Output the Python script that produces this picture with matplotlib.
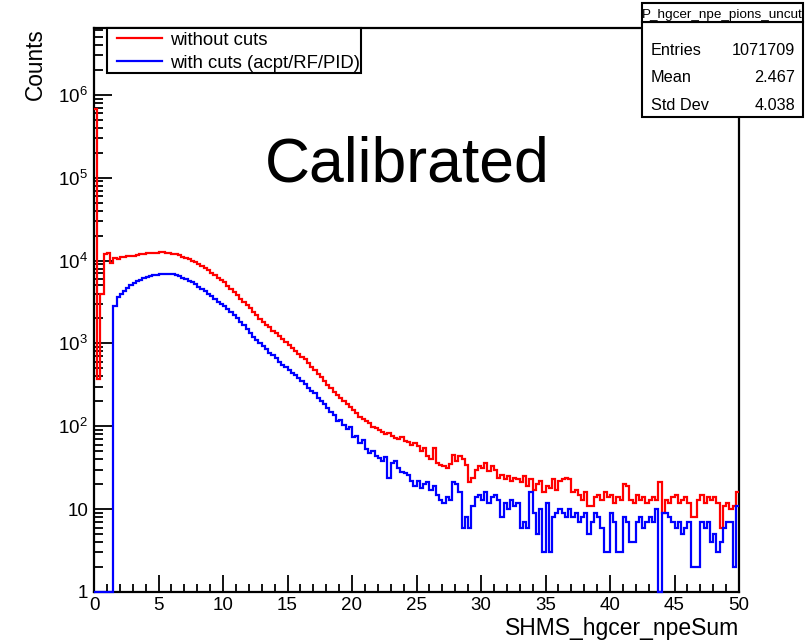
import numpy as np
import matplotlib
matplotlib.use("Agg")
import matplotlib.pyplot as plt
from matplotlib.lines import Line2D
from matplotlib.patches import Rectangle
from matplotlib.ticker import (FixedLocator, FixedFormatter, LogLocator,
                               MultipleLocator, NullFormatter)

plt.rcParams['font.family'] = ['Liberation Sans', 'DejaVu Sans']
plt.rcParams['mathtext.fontset'] = 'custom'
plt.rcParams['mathtext.rm'] = 'Liberation Sans'
plt.rcParams['mathtext.it'] = 'Liberation Sans:italic'

# histogram binning: 200 bins, 0 .. 50
nbins = 200
xlo, xhi = 0, 50

# counts per bin, without cuts (red)
without_cuts = [
    680000, 370, 4000, 12000, 12300, 9300, 10600, 10500, 10900, 11000, 11200, 11300, 11500, 11700, 11900, 12000, 12200, 12300, 12400, 12500,
    12600, 12600, 12500, 12400, 12100, 11900, 11600, 11000, 10700, 10400, 10000, 9600, 9100, 8600, 8100, 7600, 7150, 6700, 6200, 5800,
    5450, 4950, 4550, 4150, 3800, 3480, 3180, 2900, 2640, 2400, 2180, 1980, 1820, 1690, 1560, 1420, 1320, 1230, 1120, 1040,
    950, 880, 820, 750, 690, 640, 580, 520, 480, 430, 390, 350, 318, 290, 262, 238, 220, 200, 185, 170,
    158, 146, 131, 124, 115, 108, 99, 96, 91, 86, 80, 83, 76, 72, 70, 74, 66, 64, 60, 63,
    58, 50, 55, 44, 40, 54, 36, 34, 33, 31, 35, 45, 38, 44, 40, 34, 21, 24, 30, 33,
    31, 36, 29, 33, 30, 24, 26, 23, 25, 22, 24, 23, 21, 25, 19, 23, 17, 20, 22, 16,
    19, 18, 23, 17, 22, 23, 24, 23, 16, 17, 15, 13, 16, 11, 11, 14, 15, 13, 16, 14,
    15, 12, 14, 13, 20, 19, 13, 12, 15, 13, 14, 12, 13, 14, 13, 21, 9, 13, 12, 14,
    15, 12, 13, 14, 12, 8, 8, 13, 15, 12, 14, 13, 14, 12, 6, 11, 12, 10, 11, 16,
]

# counts per bin, with cuts acpt/RF/PID (blue)
with_cuts = [
    0, 0, 0, 0, 0, 0, 2800, 3600, 4000, 4300, 4600, 5000, 5300, 5600, 5900, 6100, 6300, 6500, 6650, 6750,
    6850, 6900, 6950, 6900, 6800, 6650, 6450, 6200, 5950, 5700, 5450, 5150, 4850, 4550, 4250, 3950, 3700, 3450, 3200, 3000,
    2800, 2580, 2380, 2180, 2000, 1820, 1650, 1480, 1320, 1210, 1100, 1010, 930, 850, 770, 720, 660, 600, 550, 520,
    480, 440, 410, 380, 355, 320, 290, 265, 250, 220, 200, 185, 166, 150, 137, 115, 118, 103, 92, 98,
    74, 76, 62, 68, 53, 47, 50, 44, 41, 38, 42, 24, 36, 38, 31, 28, 27, 26, 22, 19,
    22, 18, 20, 21, 17, 19, 15, 13, 12, 14, 13, 21, 20, 16, 6, 8, 6, 11, 14, 15,
    13, 16, 12, 14, 15, 13, 8, 12, 10, 13, 11, 12, 6, 7, 6, 16, 9, 5, 10, 3,
    12, 3, 8, 9, 10, 9, 8, 10, 8, 9, 7, 8, 9, 5, 7, 9, 8, 6, 3, 3,
    9, 7, 3, 3, 8, 7, 4, 4, 7, 8, 6, 7, 8, 7, 10, 0, 9, 9, 8, 7,
    6, 7, 5, 6, 7, 2, 2, 2, 7, 6, 7, 4, 5, 3, 4, 6, 7, 7, 2, 11,
]

labels = ["without cuts", "with cuts (acpt/RF/PID)"]
colors = ["red", "blue"]

hist_name = "P_hgcer_npe_pions_uncut"
stat_names = ["Entries", "Mean", "Std Dev"]
stat_values = ["1071709", "2.467", "4.038"]

ytick_vals = [1, 10, 1e2, 1e3, 1e4, 1e5, 1e6]
ytick_labels = ["1", "10", "$10^{2}$", "$10^{3}$", "$10^{4}$", "$10^{5}$", "$10^{6}$"]

W, H = 806, 640


def fx(px):
    return px / W


def fy(py):
    return 1 - py / H


fig = plt.figure(figsize=(W / 100, H / 100), dpi=100)
ax = fig.add_axes([fx(94), fy(592), fx(739) - fx(94), fy(28) - fy(592)])

edges = np.linspace(xlo, xhi, nbins + 1)
for vals, c in zip([without_cuts, with_cuts], colors):
    # empty bins drawn at the axis floor like ROOT does
    ax.stairs(np.clip(np.array(vals, float), 1, None), edges, color=c, lw=1.6,
              baseline=None, zorder=3, clip_on=False)

ax.set_yscale("log")
ax.set_xlim(xlo, xhi)
ax.set_ylim(1, 6.4e6)

ax.yaxis.set_major_locator(FixedLocator(ytick_vals))
ax.yaxis.set_major_formatter(FixedFormatter(ytick_labels))
ax.yaxis.set_minor_locator(LogLocator(base=10, subs=np.arange(2, 10), numticks=30))
ax.yaxis.set_minor_formatter(NullFormatter())
ax.xaxis.set_major_locator(MultipleLocator(5))
ax.xaxis.set_minor_locator(MultipleLocator(1))

ax.tick_params(which="both", direction="in", top=False, right=False,
               width=1.3, labelsize=13.5)
ax.tick_params(axis="y", which="major", length=13, pad=4.3)
ax.tick_params(axis="y", which="minor", length=6.5)
ax.tick_params(axis="x", which="major", length=12.5, pad=3.3)
ax.tick_params(axis="x", which="minor", length=6)
for s in ax.spines.values():
    s.set_linewidth(1.6)

# axis titles, ROOT style
fig.text(fx(739), fy(635), "SHMS_hgcer_npeSum", ha="right", va="baseline", fontsize=16.5)
fig.text(fx(35), fy(28), "Counts", rotation=90, ha="center", va="top", fontsize=16.3)

fig.text(fx(265), fy(182), "Calibrated", ha="left", va="baseline", fontsize=45)

# legend box
fig.add_artist(Rectangle((fx(107), fy(73)), fx(361) - fx(107), fy(28) - fy(73),
                         transform=fig.transFigure, fc="white", ec="black", lw=1.5, zorder=5))
for i, (lab, c) in enumerate(zip(labels, colors)):
    yc = 38 + 23 * i
    fig.add_artist(Line2D([fx(117), fx(162)], [fy(yc), fy(yc)], transform=fig.transFigure,
                          color=c, lw=1.6, zorder=6))
    fig.text(fx(170), fy(yc + 7), lab, ha="left", va="baseline", fontsize=13.3, zorder=6)

# stats box
fig.add_artist(Rectangle((fx(642), fy(117)), fx(803) - fx(642), fy(22) - fy(117),
                         transform=fig.transFigure, fc="white", ec="black", lw=1.5, zorder=5))
fig.add_artist(Rectangle((fx(642), fy(22)), fx(803) - fx(642), fy(3) - fy(22),
                         transform=fig.transFigure, fc="white", ec="black", lw=1.5, zorder=5))
fig.text(fx(722), fy(18), hist_name, ha="center", va="baseline", fontsize=9.7, zorder=6)
for i, (n, v) in enumerate(zip(stat_names, stat_values)):
    yb = 55 + 27.5 * i
    fig.text(fx(651), fy(yb), n, ha="left", va="baseline", fontsize=11.7, zorder=6)
    fig.text(fx(795), fy(yb), v, ha="right", va="baseline", fontsize=11.7, zorder=6)

fig.savefig("out.png", dpi=100)
